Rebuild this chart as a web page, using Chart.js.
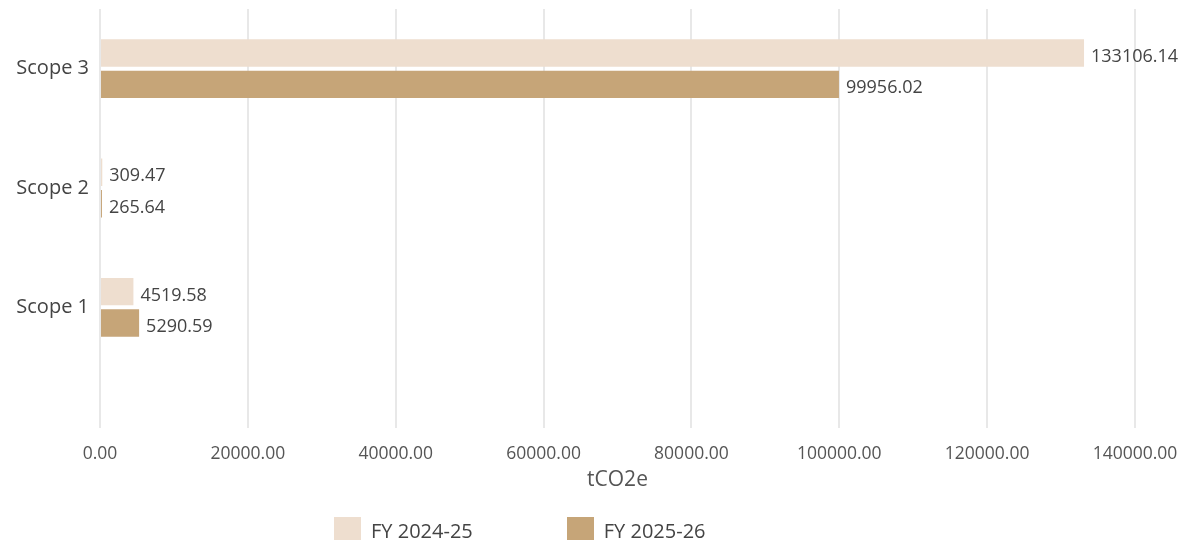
<!DOCTYPE html>
<html>
<head>
<meta charset="utf-8">
<script src="https://cdn.jsdelivr.net/npm/chart.js@4"></script>
<style>
  html, body { margin: 0; padding: 0; background: #ffffff; }
  #wrap { position: relative; width: 1187px; height: 543px; overflow: hidden; }
  #legend {
    position: absolute; left: 334px; top: 517px;
    display: flex; align-items: center;
    font-family: "Open Sans", sans-serif; font-size: 20px; color: #444444;
  }
  #legend .item { display: flex; align-items: center; margin-right: 94px; }
  #legend .swatch { width: 27px; height: 23px; margin-right: 10px; }
  #legend .text { position: relative; top: 2px; line-height: 23px; }
</style>
</head>
<body>
<div id="wrap">
  <canvas id="chart" width="1187" height="543"></canvas>
  <div id="legend"></div>
</div>
<script>
// Emissions by scope, tCO2e
const categories = ['Scope 3', 'Scope 2', 'Scope 1'];
const seriesNames = ['FY 2024-25', 'FY 2025-26'];
const fy2425 = [133106.14, 309.47, 4519.58];
const fy2526 = [99956.02, 265.64, 5290.59];
const seriesColors = ['#eedecf', '#c6a578'];
const axisTitle = 'tCO2e';

const FONT = '"Open Sans", sans-serif';

// Writes each bar's value just past its end
const valueLabels = {
  id: 'valueLabels',
  afterDatasetsDraw(chart) {
    const ctx = chart.ctx;
    ctx.save();
    ctx.font = '18px ' + FONT;
    ctx.fillStyle = '#444444';
    ctx.textAlign = 'left';
    ctx.textBaseline = 'middle';
    chart.data.datasets.forEach((ds, di) => {
      chart.getDatasetMeta(di).data.forEach((bar, i) => {
        ctx.fillText(ds.data[i].toFixed(2), bar.x + 7, bar.y + 4);
      });
    });
    ctx.restore();
  }
};

const chart = new Chart(document.getElementById('chart'), {
  type: 'bar',
  data: {
    labels: categories,
    datasets: [
      { label: seriesNames[0], data: fy2425, backgroundColor: seriesColors[0], borderWidth: 0 },
      { label: seriesNames[1], data: fy2526, backgroundColor: seriesColors[1], borderWidth: 0 }
    ]
  },
  options: {
    indexAxis: 'y',
    responsive: false,
    animation: false,
    layout: { padding: { top: 9, right: 52, bottom: 46, left: 0 } },
    datasets: { bar: { categoryPercentage: 0.526, barPercentage: 0.875 } },
    plugins: {
      legend: { display: false },
      tooltip: { enabled: false }
    },
    scales: {
      x: {
        min: 0,
        max: 140000,
        ticks: {
          stepSize: 20000,
          padding: 16,
          color: '#555555',
          font: { family: FONT, size: 17.5 },
          maxRotation: 0,
          autoSkip: false,
          callback: v => Number(v).toFixed(2)
        },
        grid: { color: '#e8e8e8', lineWidth: 2, tickLength: 61, drawTicks: true },
        border: { display: false },
        title: {
          display: true,
          text: axisTitle,
          color: '#555555',
          font: { family: FONT, size: 21 },
          padding: { top: 5, bottom: 4 }
        },
        afterFit(scale) {
          scale.height = 130;
          scale.paddingLeft = 0;
          scale.paddingRight = 0;
        }
      },
      y: {
        ticks: { padding: 11, color: '#444444', font: { family: FONT, size: 20 } },
        grid: { display: false, drawTicks: false },
        border: { display: false },
        afterFit(scale) {
          scale.width = 100;
          scale.paddingTop = 0;
          scale.paddingBottom = 0;
        }
      }
    }
  },
  plugins: [valueLabels]
});

// Legend built from the chart's own datasets
const legend = document.getElementById('legend');
chart.data.datasets.forEach(ds => {
  const item = document.createElement('div');
  item.className = 'item';
  const sw = document.createElement('span');
  sw.className = 'swatch';
  sw.style.background = ds.backgroundColor;
  const tx = document.createElement('span');
  tx.className = 'text';
  tx.textContent = ds.label;
  item.appendChild(sw);
  item.appendChild(tx);
  legend.appendChild(item);
});
</script>
</body>
</html>
